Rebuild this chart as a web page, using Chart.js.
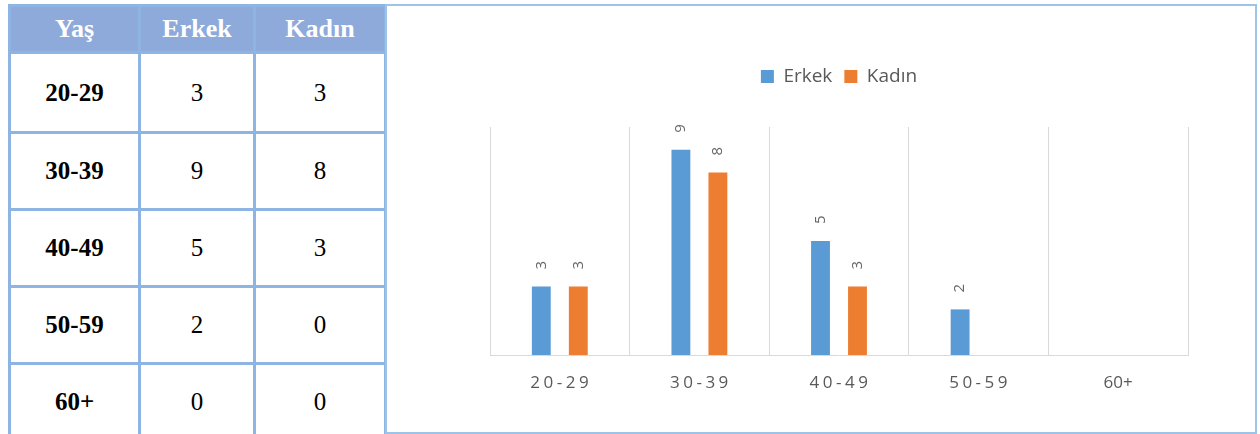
<!DOCTYPE html>
<html>
<head>
<meta charset="utf-8">
<script src="https://cdn.jsdelivr.net/npm/chart.js@4"></script>
<style>
  body { margin: 0; background: #fff; width: 1260px; height: 434px; overflow: hidden; position: relative; }
  table { position: absolute; left: 8px; top: 4px; border-collapse: collapse; font-family: "Liberation Serif", "Times New Roman", serif; font-size: 25px; }
  th, td { border: 3px solid #8eb4e3; text-align: center; padding: 0; }
  th { background: #8eaadb; color: #fff; height: 44px; font-weight: bold; font-size: 26px; }
  td { height: 74px; color: #000; }
  td.age { font-weight: bold; }
  #panel { position: absolute; left: 385px; top: 4px; width: 868px; height: 426px; border: 2px solid #9dc3e6; }
  canvas { display: block; }
</style>
</head>
<body>
<table id="tbl">
  <thead><tr><th style="width:127px">Yaş</th><th style="width:112px">Erkek</th><th style="width:128px">Kadın</th></tr></thead>
  <tbody></tbody>
</table>
<div id="panel"><canvas id="ageChart" width="868" height="426"></canvas></div>
<script>
var ageGroups = ['20-29', '30-39', '40-49', '50-59', '60+'];
var erkek = [3, 9, 5, 2, 0];
var kadin = [3, 8, 3, 0, 0];

// table rows
var tbody = document.querySelector('#tbl tbody');
ageGroups.forEach(function (g, i) {
    var tr = document.createElement('tr');
    tr.innerHTML = '<td class="age">' + g + '</td><td>' + erkek[i] + '</td><td>' + kadin[i] + '</td>';
    if (i === 0) tr.firstChild.style.height = '77px';
    tbody.appendChild(tr);
});

// value labels above bars, rotated like Excel
var valueLabels = {
    id: 'valueLabels',
    afterDatasetsDraw: function (chart) {
        var ctx = chart.ctx;
        ctx.save();
        ctx.font = '15px "Open Sans", sans-serif';
        ctx.fillStyle = '#666666';
        ctx.textAlign = 'left';
        ctx.textBaseline = 'middle';
        chart.data.datasets.forEach(function (ds, di) {
            chart.getDatasetMeta(di).data.forEach(function (bar, i) {
                if (!ds.data[i]) return;
                ctx.save();
                ctx.translate(bar.x, bar.y - 17);
                ctx.rotate(-Math.PI / 2);
                ctx.fillText(ds.data[i], 0, 0);
                ctx.restore();
            });
        });
        ctx.restore();
    }
};

// spaced category labels under the axis
var xLabels = {
    id: 'xLabels',
    afterDraw: function (chart) {
        var ctx = chart.ctx;
        var scale = chart.scales.x;
        ctx.save();
        ctx.font = '17px "Open Sans", sans-serif';
        ctx.fillStyle = '#595959';
        ctx.textAlign = 'center';
        ctx.textBaseline = 'middle';
        ageGroups.forEach(function (g, i) {
            ctx.letterSpacing = g === '60+' ? '0px' : '3.5px';
            ctx.fillText(g, scale.getPixelForTick(i) + (g === '60+' ? 0 : 1.5), chart.chartArea.bottom + 28);
        });
        ctx.restore();
    }
};

// extra room under the legend
var legendGap = {
    id: 'legendGap',
    beforeInit: function (chart) {
        var fit = chart.legend.fit;
        chart.legend.fit = function () {
            fit.bind(chart.legend)();
            this.height += 31;
        };
    }
};

var ctx = document.getElementById('ageChart').getContext('2d');
var ageChart = new Chart(ctx, {
    type: 'bar',
    data: {
        labels: ageGroups,
        datasets: [
            { label: 'Erkek', data: erkek, backgroundColor: '#5b9bd5' },
            { label: 'Kadın', data: kadin, backgroundColor: '#ed7d31' }
        ]
    },
    options: {
        responsive: false,
        animation: false,
        layout: { padding: { left: 103, right: 67, top: 49, bottom: 77 } },
        datasets: { bar: { categoryPercentage: 0.53, barPercentage: 0.51 } },
        scales: {
            x: {
                grid: { color: '#d9d9d9', drawTicks: false, offset: true },
                border: { color: '#d9d9d9', width: 1 },
                ticks: { display: false }
            },
            y: {
                display: false,
                min: 0,
                max: 10
            }
        },
        plugins: {
            legend: {
                position: 'top',
                labels: {
                    boxWidth: 13,
                    boxHeight: 13,
                    padding: 12,
                    color: '#595959',
                    font: { family: '"Open Sans", sans-serif', size: 19 }
                }
            },
            tooltip: { enabled: false }
        }
    },
    plugins: [valueLabels, xLabels, legendGap]
});
</script>
</body>
</html>
